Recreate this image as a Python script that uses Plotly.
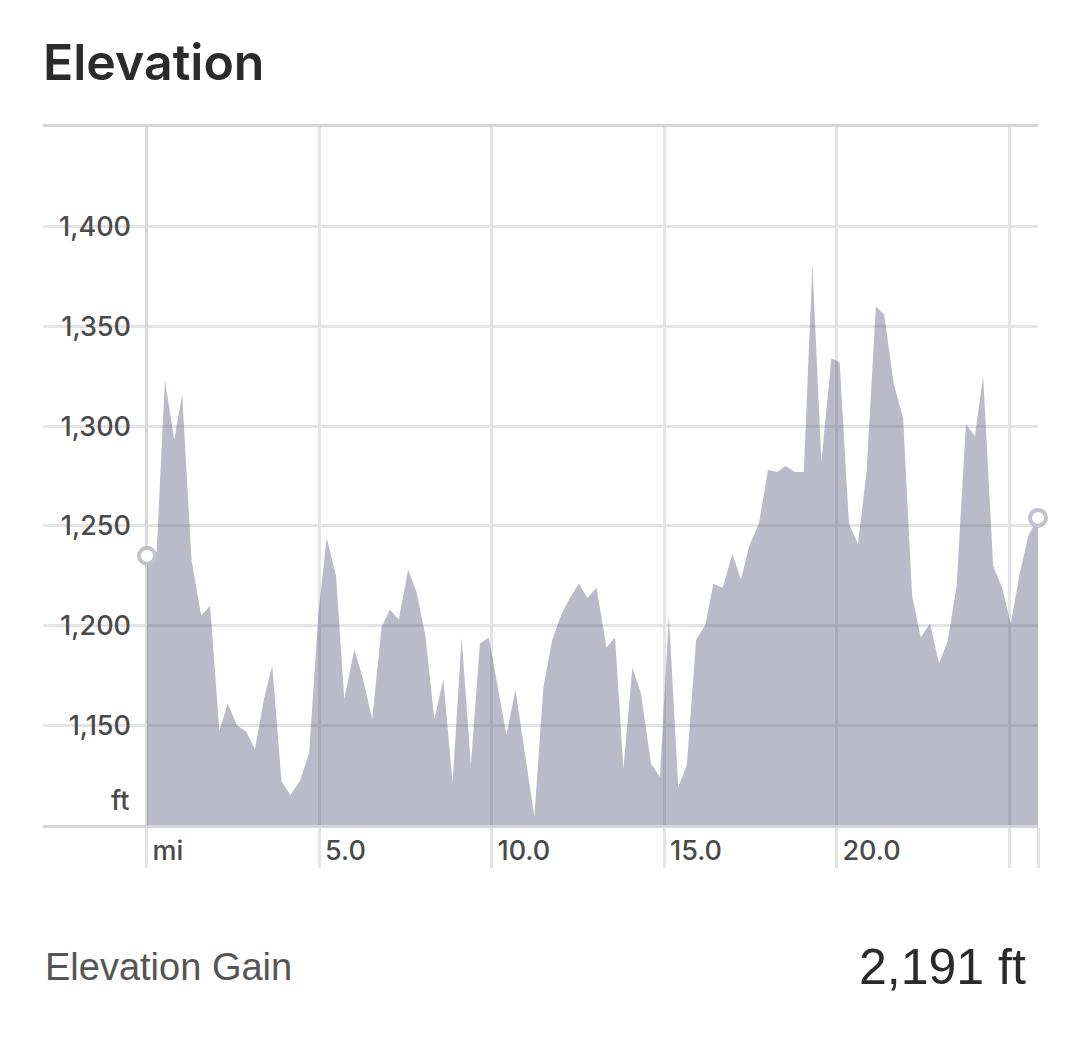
import plotly.graph_objects as go

# route profile: distance (mi) and elevation (ft)
distance_mi = [0.00, 0.28, 0.52, 0.79, 1.02, 1.29, 1.57, 1.83, 2.10, 2.34,
               2.60, 2.87, 3.13, 3.39, 3.63, 3.90, 4.16, 4.43, 4.70, 4.97,
               5.21, 5.48, 5.72, 6.01, 6.25, 6.53, 6.80, 7.04, 7.30, 7.57,
               7.81, 8.07, 8.33, 8.59, 8.86, 9.12, 9.39, 9.65, 9.91, 10.16,
               10.42, 10.68, 11.23, 11.49, 11.75, 12.00, 12.26, 12.52, 12.77, 13.03,
               13.32, 13.57, 13.81, 14.07, 14.32, 14.61, 14.87, 15.13, 15.40, 15.65,
               15.92, 16.18, 16.42, 16.69, 16.97, 17.22, 17.46, 17.74, 18.00, 18.27,
               18.51, 18.78, 19.04, 19.29, 19.55, 19.84, 20.08, 20.35, 20.61, 20.86,
               21.13, 21.37, 21.65, 21.92, 22.18, 22.43, 22.70, 22.96, 23.21, 23.47,
               23.74, 24.00, 24.24, 24.53, 24.79, 25.04, 25.30, 25.55, 25.83]
elevation_ft = [1235, 1237, 1323, 1293, 1316, 1233, 1205, 1210, 1147, 1161,
                1150, 1147, 1138, 1163, 1180, 1122, 1115, 1122, 1136, 1206,
                1244, 1225, 1163, 1188, 1174, 1153, 1199, 1208, 1203, 1228,
                1217, 1195, 1153, 1173, 1121, 1194, 1130, 1191, 1194, 1170,
                1145, 1168, 1104, 1169, 1193, 1205, 1214, 1221, 1214, 1219,
                1189, 1194, 1128, 1179, 1166, 1131, 1124, 1205, 1119, 1130,
                1193, 1200, 1221, 1219, 1236, 1223, 1240, 1251, 1278, 1277,
                1280, 1277, 1277, 1381, 1282, 1334, 1332, 1251, 1241, 1277,
                1360, 1356, 1321, 1304, 1215, 1194, 1201, 1181, 1192, 1220,
                1301, 1295, 1325, 1230, 1219, 1201, 1226, 1245, 1254]

y_ticks = [1150, 1200, 1250, 1300, 1350, 1400, 1450]
y_labels = ["1,150", "1,200", "1,250", "1,300", "1,350", "1,400", ""]
x_ticks = [0, 5, 10, 15, 20, 25]
x_labels = ["mi", "5.0", "10.0", "15.0", "20.0", ""]

elevation_gain = "2,191 ft"

label_font = dict(family="Inter", size=27, color="#4a4a4a", weight=500)
grid_col = "#e4e4e4"

fig = go.Figure()
fig.add_trace(go.Scatter(x=distance_mi, y=elevation_ft, mode="lines",
                         line=dict(width=0, color="rgba(63,63,102,0)"),
                         fill="tozeroy", fillcolor="rgba(63,63,102,0.36)",
                         hoverinfo="skip", showlegend=False))
# hollow markers at start and finish
fig.add_trace(go.Scatter(x=[distance_mi[0], distance_mi[-1]],
                         y=[elevation_ft[0], elevation_ft[-1]],
                         mode="markers", cliponaxis=False, showlegend=False,
                         marker=dict(size=16, color="white",
                                     line=dict(width=4, color="#c2c2cf"))))

px_per_mi = 34.5
fig.update_xaxes(range=[-104 / px_per_mi, distance_mi[-1]],
                 tickvals=x_ticks + [distance_mi[-1]], ticktext=x_labels + [""],
                 showgrid=True, gridcolor=grid_col, gridwidth=2.5,
                 ticks="outside", ticklen=40, tickwidth=2.5, tickcolor=grid_col,
                 ticklabelposition="outside right", ticklabelshift=3, tickfont=label_font,
                 showline=True, mirror=True, linecolor="#d6d6d6", linewidth=2.5,
                 zeroline=True, zerolinecolor="#d9d9d9", zerolinewidth=3)
fig.update_yaxes(range=[1100, 1450], tickvals=y_ticks, ticktext=y_labels,
                 anchor="free", position=104 / 995,
                 showgrid=True, gridcolor=grid_col, gridwidth=2.5,
                 ticks="", ticklabelstandoff=16, tickfont=label_font,
                 showline=False, zeroline=False)

fig.add_annotation(text="ft", x=0, y=1100, xref="x", yref="y",
                   xanchor="right", yanchor="middle", xshift=-16, yshift=25,
                   showarrow=False, font=label_font)
fig.add_annotation(text="Elevation Gain", x=0, y=-0.203, xref="paper", yref="paper",
                   xanchor="left", yanchor="middle", showarrow=False,
                   font=dict(family="Liberation Sans", size=38, color="#555555"))
fig.add_annotation(text=elevation_gain, x=0.99, y=-0.204, xref="paper", yref="paper",
                   xanchor="right", yanchor="middle", showarrow=False,
                   font=dict(family="Liberation Sans", size=50, color="#2a2a2a"))

# the page adds an 8 px offset, so margins are pulled in by 8 px
fig.update_layout(width=1080, height=1053,
                  margin=dict(l=35, r=50, t=119, b=236),
                  paper_bgcolor="white", plot_bgcolor="white",
                  title=dict(text="Elevation", x=35 / 1080, xanchor="left",
                             y=1 - 54 / 1053, yanchor="middle",
                             font=dict(family="Inter", size=50, color="#2b2b2b", weight=600)))

fig.write_html("out.html")
